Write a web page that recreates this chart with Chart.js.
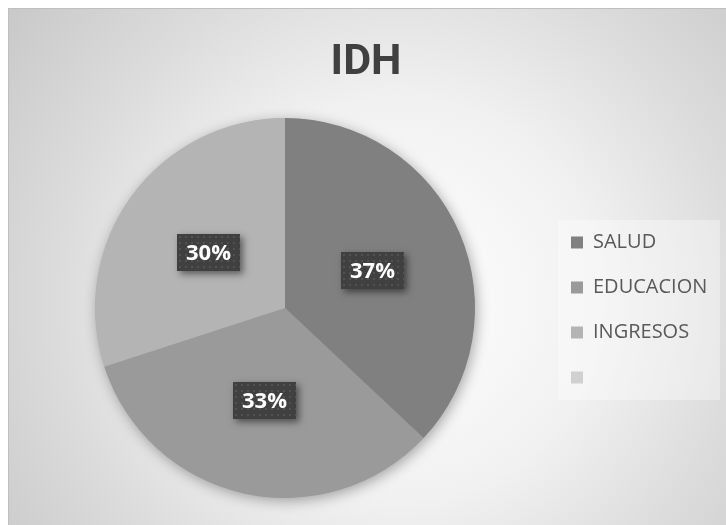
<!DOCTYPE html>
<html>
<head>
<meta charset="utf-8">
<script src="https://cdn.jsdelivr.net/npm/chart.js@4.4.1/dist/chart.umd.min.js"></script>
<style>
  html, body { margin: 0; padding: 0; background: #ffffff; }
  #wrap { width: 726px; height: 525px; position: relative; }
</style>
</head>
<body>
<div id="wrap"><canvas id="c" width="726" height="525"></canvas></div>
<script>
// ---- data ----
const titleText = 'IDH';
const categories = ['SALUD', 'EDUCACION', 'INGRESOS', ''];
const values = [37, 33, 30, 0];
const sliceColors = ['#808080', '#9a9a9a', '#b4b4b4', '#d0d0d0'];

// background + frame
const bgPlugin = {
  id: 'bg',
  beforeDraw(chart) {
    const ctx = chart.ctx;
    ctx.save();
    ctx.fillStyle = '#ffffff';
    ctx.fillRect(0, 0, chart.width, chart.height);
    const g = ctx.createRadialGradient(400, 300, 0, 400, 300, 500);
    g.addColorStop(0, '#ffffff');
    g.addColorStop(0.4, '#f1f1f1');
    g.addColorStop(0.68, '#dcdcdc');
    g.addColorStop(1, '#c7c7c7');
    ctx.fillStyle = g;
    ctx.fillRect(8, 8, chart.width - 8, chart.height - 8);
    ctx.strokeStyle = '#bfbfbf';
    ctx.lineWidth = 1;
    ctx.beginPath();
    ctx.moveTo(8.5, chart.height);
    ctx.lineTo(8.5, 8.5);
    ctx.lineTo(chart.width, 8.5);
    ctx.stroke();
    // legend panel
    const lg = chart.legend;
    if (lg && lg.legendHitBoxes && lg.legendHitBoxes.length) {
      const hb = lg.legendHitBoxes;
      const first = hb[0], last = hb[hb.length - 1];
      const left = first.left - 13;
      const top = first.top - 12.5;
      const bottom = last.top + last.height + 12.5;
      const right = chart.width - 6;
      ctx.fillStyle = 'rgba(255,255,255,0.35)';
      ctx.fillRect(left, top, right - left, bottom - top);
    }
    ctx.restore();
  }
};

// shadow under the pie
const pieShadow = {
  id: 'pieShadow',
  beforeDatasetsDraw(chart) {
    const meta = chart.getDatasetMeta(0);
    const a = meta.data[0];
    if (!a) return;
    const ctx = chart.ctx;
    ctx.save();
    ctx.shadowColor = 'rgba(0,0,0,0.35)';
    ctx.shadowBlur = 14;
    ctx.shadowOffsetX = 2;
    ctx.shadowOffsetY = 3;
    ctx.fillStyle = '#999999';
    ctx.beginPath();
    ctx.arc(a.x, a.y, a.outerRadius - 0.5, 0, Math.PI * 2);
    ctx.fill();
    ctx.restore();
  }
};

// data labels: dark patterned boxes
const dataLabels = {
  id: 'dataLabels',
  afterDatasetsDraw(chart) {
    const ctx = chart.ctx;
    const meta = chart.getDatasetMeta(0);
    const data = chart.data.datasets[0].data;
    const total = data.reduce((s, v) => s + v, 0);
    meta.data.forEach((arc, i) => {
      const v = data[i];
      if (!v) return;
      const p = arc.tooltipPosition();
      const w = 63, h = 37;
      const x = Math.round(p.x - w / 2), y = Math.round(p.y - h / 2);
      ctx.save();
      ctx.shadowColor = 'rgba(0,0,0,0.5)';
      ctx.shadowBlur = 7;
      ctx.shadowOffsetX = 3;
      ctx.shadowOffsetY = 3;
      ctx.fillStyle = '#404040';
      ctx.fillRect(x, y, w, h);
      ctx.restore();
      ctx.save();
      ctx.beginPath();
      ctx.rect(x, y, w, h);
      ctx.clip();
      ctx.fillStyle = '#525252';
      for (let yy = y + 2; yy < y + h; yy += 6) {
        for (let xx = x + 2; xx < x + w; xx += 6) {
          ctx.fillRect(xx, yy, 2, 2);
        }
      }
      ctx.restore();
      ctx.save();
      ctx.fillStyle = '#ffffff';
      ctx.font = 'bold 22px "Open Sans", sans-serif';
      ctx.textAlign = 'center';
      ctx.textBaseline = 'middle';
      ctx.fillText(Math.round(v / total * 100) + '%', x + w / 2, y + h / 2 + 1);
      ctx.restore();
    });
  }
};

// legend geometry tweaks
const legendTweak = {
  id: 'legendTweak',
  beforeInit(chart) {
    const lg = chart.legend;
    if (!lg) return;
    const origFit = lg.fit.bind(lg);
    lg.fit = function () {
      origFit();
      this.width = 162;
    };
  },
  afterLayout(chart) {
    const lg = chart.legend;
    if (!lg) return;
    lg.left -= 12;
    lg.right -= 12;
    lg.top += 61;
    lg.bottom += 61;
  }
};

new Chart(document.getElementById('c'), {
  type: 'pie',
  data: {
    labels: categories,
    datasets: [{
      data: values,
      backgroundColor: sliceColors,
      borderColor: sliceColors,
      borderWidth: 0
    }]
  },
  options: {
    responsive: false,
    animation: false,
    events: [],
    layout: { padding: { left: 12, right: 6, top: 0, bottom: 27 } },
    plugins: {
      title: {
        display: true,
        text: titleText,
        color: '#404040',
        font: { family: 'Roboto, sans-serif', size: 43, weight: 'bold', lineHeight: 1.2 },
        padding: { top: 37, bottom: 29.4 }
      },
      legend: {
        display: true,
        position: 'right',
        align: 'center',
        labels: {
          color: '#595959',
          font: { family: '"Open Sans", sans-serif', size: 20 },
          boxWidth: 12,
          boxHeight: 12,
          padding: 25
        }
      },
      tooltip: { enabled: false }
    }
  },
  plugins: [bgPlugin, pieShadow, dataLabels, legendTweak]
});
</script>
</body>
</html>
